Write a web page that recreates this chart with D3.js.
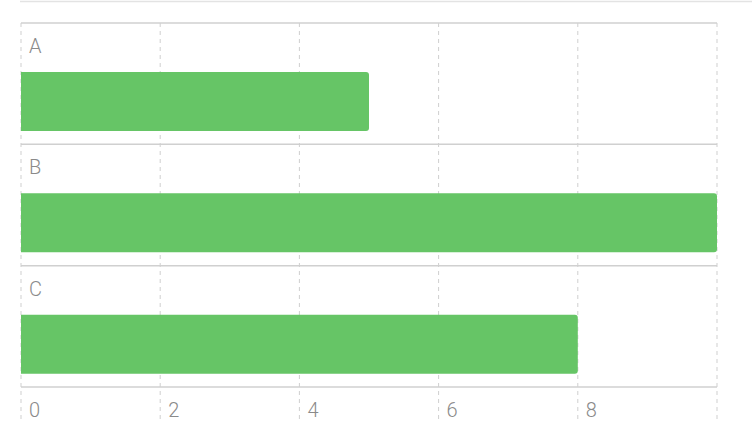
<!DOCTYPE html>
<html>
<head>
<meta charset="utf-8">
<script src="https://cdn.jsdelivr.net/npm/d3@7"></script>
<style>
  body { margin: 0; background: #fff; }
  svg { display: block; font-family: Roboto, "Liberation Sans", sans-serif; }
</style>
</head>
<body>
<div id="chart"></div>
<script>
const categories = ["A", "B", "C"];
const values = [5, 10, 8];
const tickValues = [0, 2, 4, 6, 8, 10];
const tickLabels = ["0", "2", "4", "6", "8", ""];

const width = 752, height = 436;
const margin = { top: 23, right: 35, bottom: 49, left: 21 };
const innerW = width - margin.left - margin.right;
const innerH = height - margin.top - margin.bottom;

const svg = d3.select("#chart").append("svg")
  .attr("width", width)
  .attr("height", height);

// thin rule across the top
svg.append("line")
  .attr("x1", 20).attr("x2", width)
  .attr("y1", 1.5).attr("y2", 1.5)
  .style("stroke", "#e3e3e3")
  .style("stroke-width", 1.5);

const g = svg.append("g")
  .attr("transform", `translate(${margin.left},${margin.top})`);

const x = d3.scaleLinear().domain([0, 10]).range([0, innerW]);
const y = d3.scaleBand().domain(categories).range([0, innerH]).padding(0);

// vertical dashed grid
g.selectAll(".vgrid")
  .data(tickValues)
  .enter().append("line")
  .attr("class", "vgrid")
  .attr("x1", (d) => x(d)).attr("x2", (d) => x(d))
  .attr("y1", 0).attr("y2", innerH + 34)
  .style("stroke", "#cfcfcf")
  .style("stroke-width", 1)
  .style("stroke-dasharray", "4,4");

// horizontal band separators
g.selectAll(".hgrid")
  .data(categories.map((c) => y(c)).concat([innerH]))
  .enter().append("line")
  .attr("class", "hgrid")
  .attr("x1", 0).attr("x2", innerW)
  .attr("y1", (d) => d).attr("y2", (d) => d)
  .style("stroke", "#d0d0d0")
  .style("stroke-width", 1.5);

// bars: square left edge, rounded right edge
const barTop = 49, barH = 59, r = 3;
g.selectAll(".bar")
  .data(values)
  .enter().append("path")
  .attr("class", "bar")
  .attr("d", (d, i) => {
    const y0 = y(categories[i]) + barTop;
    const w = x(d) - x(0);
    return `M${x(0)},${y0}H${w - r}Q${w},${y0} ${w},${y0 + r}V${y0 + barH - r}Q${w},${y0 + barH} ${w - r},${y0 + barH}H${x(0)}Z`;
  })
  .style("fill", "#66c566");

// category labels
g.selectAll(".cat")
  .data(categories)
  .enter().append("text")
  .attr("class", "cat")
  .attr("x", 8)
  .attr("y", (d) => y(d) + 30)
  .style("font-size", "20px")
  .style("font-weight", 300)
  .style("fill", "#8a8a8a")
  .text((d) => d);

// tick labels
g.selectAll(".tick-label")
  .data(tickValues)
  .enter().append("text")
  .attr("class", "tick-label")
  .attr("x", (d) => x(d) + 8)
  .attr("y", innerH + 30)
  .style("font-size", "20px")
  .style("font-weight", 300)
  .style("fill", "#8a8a8a")
  .text((d, i) => tickLabels[i]);
</script>
</body>
</html>
